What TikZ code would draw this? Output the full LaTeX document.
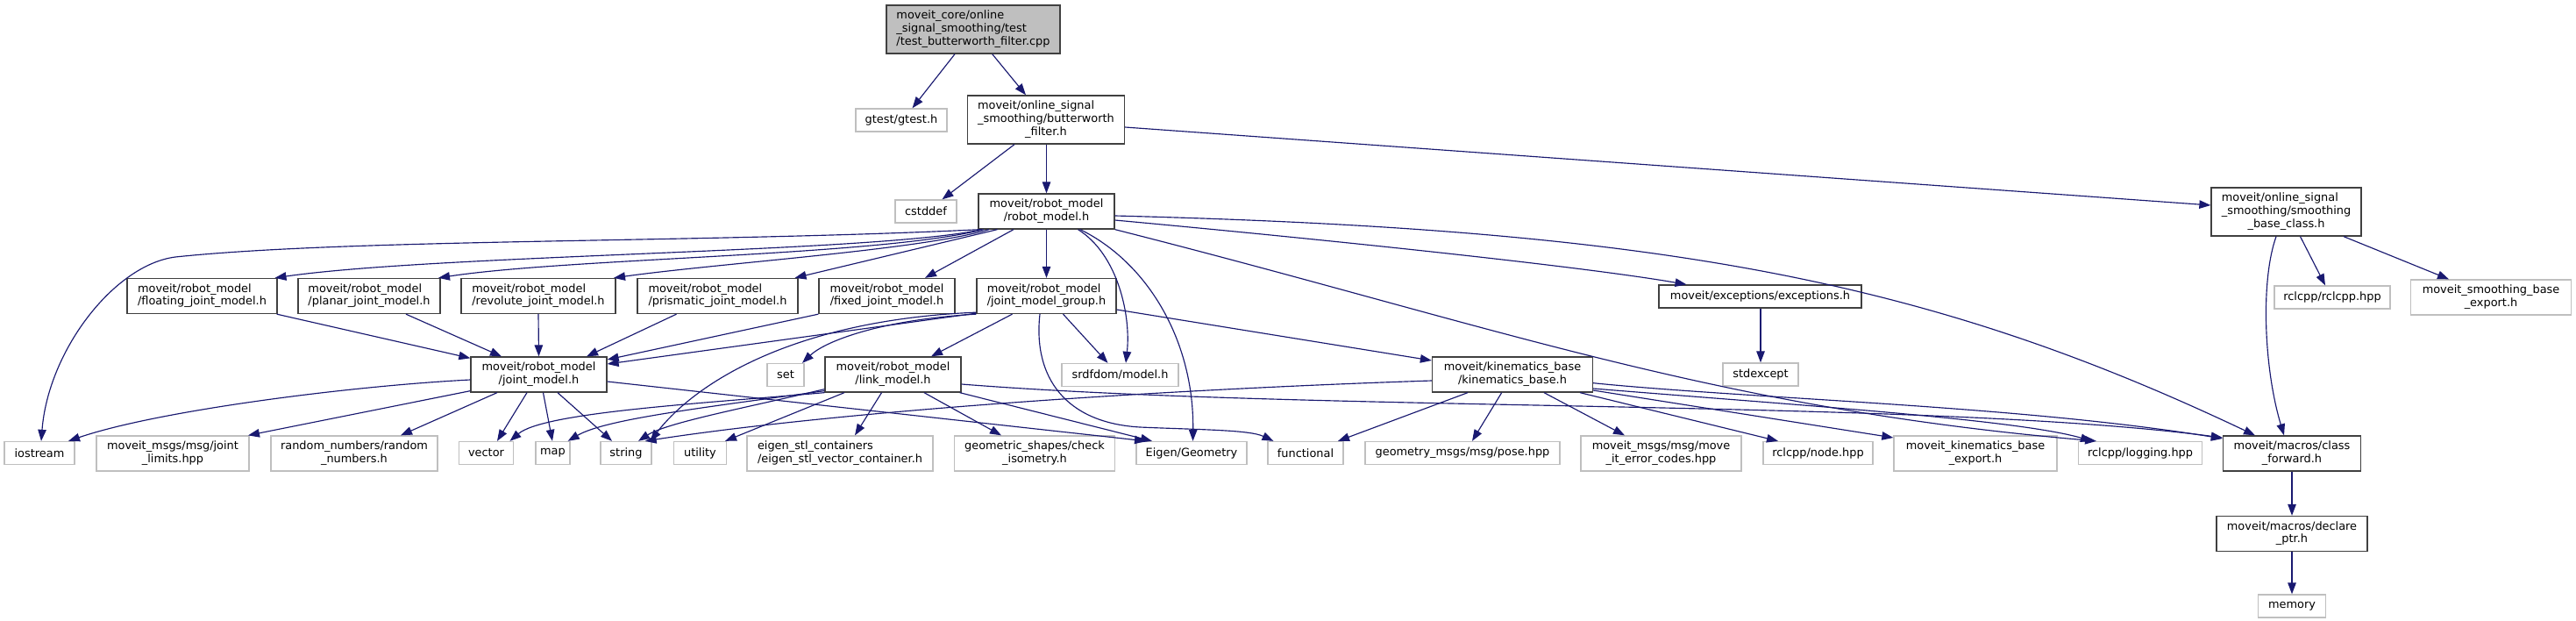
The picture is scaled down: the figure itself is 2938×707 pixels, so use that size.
\documentclass[tikz,border=0pt]{standalone}
\usepackage{fontspec}
\setmainfont{DejaVu Sans}
\usetikzlibrary{arrows.meta}
\definecolor{edgec}{HTML}{191970}
\definecolor{docb}{HTML}{404040}
\definecolor{extb}{HTML}{BFBFBF}
\definecolor{rootf}{HTML}{BFBFBF}
\newcommand{\twol}[2]{\begin{tabular}{@{}l@{}}#1\\\multicolumn{1}{@{}c@{}}{#2}\end{tabular}}
\newcommand{\threel}[3]{\begin{tabular}{@{}l@{}}#1\\#2\\\multicolumn{1}{@{}c@{}}{#3}\end{tabular}}
\tikzset{
  basebox/.style={draw, rectangle, inner sep=0pt, font=\fontsize{12.9}{14.8}\selectfont, align=center},
  docn/.style={basebox, draw=docb, fill=white, line width=1.3pt},
  extn/.style={basebox, draw=extb, fill=white, line width=1.3pt},
  rootn/.style={basebox, draw=docb, fill=rootf, line width=1.3pt},
  edg/.style={draw=edgec, line width=1.15pt, -{Triangle[length=13pt,width=9.5pt]}},
}
\begin{document}
\begin{tikzpicture}[x=1pt,y=-1pt]
\fill[white] (0,0) rectangle (2938,707);
\useasboundingbox (0,0) rectangle (2938,707);
% nodes
\node[rootn, minimum width=198, minimum height=55] (root) at (1110,33.5) {\threel{moveit\_core/online}{\_signal\_smoothing/test}{/test\_butterworth\_filter.cpp}};
\node[extn, minimum width=104, minimum height=26] (gtest) at (1028,137) {gtest/gtest.h};
\node[docn, minimum width=179, minimum height=55] (bw) at (1193,136.5) {\threel{moveit/online\_signal}{\_smoothing/butterworth}{\_filter.h}};
\node[extn, minimum width=70, minimum height=26] (cstd) at (1056,241) {cstddef};
\node[docn, minimum width=155, minimum height=40] (rm) at (1193.5,241) {\twol{moveit/robot\_model}{/robot\_model.h}};
\node[docn, minimum width=171, minimum height=55] (sbc) at (2607.5,241.5) {\threel{moveit/online\_signal}{\_smoothing/smoothing}{\_base\_class.h}};
\node[docn, minimum width=171, minimum height=40] (flo) at (230.5,337.5) {\twol{moveit/robot\_model}{/floating\_joint\_model.h}};
\node[docn, minimum width=162, minimum height=40] (pla) at (421,337.5) {\twol{moveit/robot\_model}{/planar\_joint\_model.h}};
\node[docn, minimum width=176, minimum height=40] (rev) at (614,337.5) {\twol{moveit/robot\_model}{/revolute\_joint\_model.h}};
\node[docn, minimum width=183, minimum height=40] (pri) at (818.5,337.5) {\twol{moveit/robot\_model}{/prismatic\_joint\_model.h}};
\node[docn, minimum width=155, minimum height=40] (fix) at (1011.5,337.5) {\twol{moveit/robot\_model}{/fixed\_joint\_model.h}};
\node[docn, minimum width=159, minimum height=40] (jmg) at (1193.5,337.5) {\twol{moveit/robot\_model}{/joint\_model\_group.h}};
\node[docn, minimum width=231, minimum height=26] (exc) at (2007.5,338) {moveit/exceptions/exceptions.h};
\node[extn, minimum width=132, minimum height=26] (rcl) at (2660,339) {rclcpp/rclcpp.hpp};
\node[extn, minimum width=183, minimum height=40] (sbe) at (2841,339) {\twol{moveit\_smoothing\_base}{\_export.h}};
\node[docn, minimum width=155, minimum height=40] (jm) at (614.5,427) {\twol{moveit/robot\_model}{/joint\_model.h}};
\node[extn, minimum width=42, minimum height=26] (set) at (896,427.5) {set};
\node[docn, minimum width=155, minimum height=40] (lm) at (1018.5,427) {\twol{moveit/robot\_model}{/link\_model.h}};
\node[extn, minimum width=133, minimum height=26] (srdf) at (1277.5,427.5) {srdfdom/model.h};
\node[docn, minimum width=183, minimum height=40] (kb) at (1725,427) {\twol{moveit/kinematics\_base}{/kinematics\_base.h}};
\node[extn, minimum width=86, minimum height=26] (stdexc) at (2008,427) {stdexcept};
\node[extn, minimum width=80, minimum height=26] (ios) at (45,516.5) {iostream};
\node[extn, minimum width=174, minimum height=40] (jl) at (197,517) {\twol{moveit\_msgs/msg/joint}{\_limits.hpp}};
\node[extn, minimum width=190, minimum height=40] (rn) at (404,517) {\twol{random\_numbers/random}{\_numbers.h}};
\node[extn, minimum width=62, minimum height=26] (vec) at (554.5,516.5) {vector};
\node[extn, minimum width=39, minimum height=26] (map) at (630.5,516.5) {map};
\node[extn, minimum width=58, minimum height=26] (str) at (714,516.5) {string};
\node[extn, minimum width=60, minimum height=26] (util) at (798.5,516.5) {utility};
\node[extn, minimum width=212, minimum height=40] (esc) at (958,517) {\twol{eigen\_stl\_containers}{/eigen\_stl\_vector\_container.h}};
\node[extn, minimum width=183, minimum height=40] (gs) at (1180,517) {\twol{geometric\_shapes/check}{\_isometry.h}};
\node[extn, minimum width=126, minimum height=26] (eig) at (1359,516.5) {Eigen/Geometry};
\node[extn, minimum width=86, minimum height=26] (fun) at (1489,516.5) {functional};
\node[extn, minimum width=222, minimum height=26] (pose) at (1668,516.5) {geometry\_msgs/msg/pose.hpp};
\node[extn, minimum width=183, minimum height=40] (err) at (1894.5,517) {\twol{moveit\_msgs/msg/move}{\_it\_error\_codes.hpp}};
\node[extn, minimum width=125, minimum height=26] (nodeh) at (2073.5,516.5) {rclcpp/node.hpp};
\node[extn, minimum width=186, minimum height=40] (kbe) at (2253,517) {\twol{moveit\_kinematics\_base}{\_export.h}};
\node[extn, minimum width=141, minimum height=26] (log) at (2441,516.5) {rclcpp/logging.hpp};
\node[docn, minimum width=157, minimum height=40] (cf) at (2614,517) {\twol{moveit/macros/class}{\_forward.h}};
\node[docn, minimum width=172, minimum height=40] (dp) at (2614,608.5) {\twol{moveit/macros/declare}{\_ptr.h}};
\node[extn, minimum width=77, minimum height=26] (mem) at (2614,691) {memory};
% edges
\draw[edg] ([xshift=-21pt]root.south) -- ([xshift=12.5pt]gtest.north);
\draw[edg] ([xshift=21.7pt]root.south) -- ([xshift=-23pt]bw.north);
\draw[edg] ([xshift=-36pt]bw.south) -- ([xshift=18.5pt]cstd.north);
\draw[edg] ([xshift=0.5pt]bw.south) -- (rm.north);
\draw[edg] ([yshift=-8.5pt]bw.east) -- ([yshift=7.5pt]sbc.west);
\draw[edg] ([xshift=-11.5pt]sbc.south) .. controls (2578,320) and (2582,420) .. ([xshift=-9pt]cf.north);
\draw[edg] ([xshift=16pt]sbc.south) -- ([xshift=-8pt]rcl.north);
\draw[edg] ([xshift=65.5pt]sbc.south) -- ([xshift=-48pt]sbe.north);
\draw[edg] (cf.south) -- (dp.north);
\draw[edg] (dp.south) -- (mem.north);
\draw[edg] ([xshift=0.5pt]exc.south) -- (stdexc.north);
% robot_model.h
\draw[edg] (rm.south) -- (jmg.north);
\draw[edg] ([xshift=-37.5pt]rm.south) -- ([xshift=43.5pt]fix.north);
\draw[edg] ([xshift=-56pt]rm.south) -- ([xshift=88pt]pri.north);
\draw[edg] ([xshift=-65.5pt]rm.south) .. controls (1050,285) and (820,300) .. ([xshift=86pt]rev.north);
\draw[edg] ([xshift=-71.5pt]rm.south) .. controls (1000,292) and (650,294) .. ([xshift=79pt]pla.north);
\draw[edg] ([xshift=-73.5pt]rm.south) .. controls (1000,288) and (500,290) .. ([xshift=83pt]flo.north);
\draw[edg] ([xshift=-75.5pt]rm.south) .. controls (800,277) and (400,272) .. (200,293) .. controls (130,302) and (55,400) .. ([xshift=2pt]ios.north);
\draw[edg] ([xshift=36pt]rm.south) .. controls (1275,290) and (1290,360) .. ([xshift=6.5pt]srdf.north);
\draw[edg] ([xshift=38.5pt]rm.south) .. controls (1310,300) and (1362,390) .. ([xshift=1.5pt]eig.north);
\draw[edg] ([yshift=-10pt]rm.east) .. controls (1500,272) and (1800,303) .. ([xshift=-84pt]exc.north);
\draw[edg] ([yshift=-5pt]rm.east) .. controls (1900,262) and (2200,320) .. ([xshift=-42pt]cf.north);
\draw[edg] (rm.south east) .. controls (1700,370) and (1950,465) .. ([xshift=-50pt]log.north);
% joint models -> joint_model.h
\draw[edg] ([yshift=1pt]jmg.south west) -- ([yshift=12pt]jm.east);
\draw[edg] (fix.south west) -- ([yshift=17pt]jm.east);
\draw[edg] ([xshift=-47pt]pri.south) -- ([xshift=54.5pt]jm.north);
\draw[edg] (rev.south) -- (jm.north);
\draw[edg] ([xshift=42pt]pla.south) -- ([xshift=-42.5pt]jm.north);
\draw[edg] ([xshift=-1pt]flo.south east) -- ([yshift=-2pt]jm.north west);
% joint_model.h
\draw[edg] ([yshift=-6pt]jm.west) .. controls (400,440) and (180,468) .. ([xshift=33pt]ios.north);
\draw[edg] ([yshift=2pt]jm.south west) -- ([xshift=86pt]jl.north);
\draw[edg] ([xshift=-47.5pt]jm.south) -- ([xshift=53pt]rn.north);
\draw[edg] ([xshift=-13.5pt]jm.south) -- ([xshift=12.5pt]vec.north);
\draw[edg] ([xshift=5pt]jm.south) -- ([xshift=-0.5pt]map.north);
\draw[edg] ([xshift=21.5pt]jm.south) -- ([xshift=-16pt]str.north);
\draw[edg] ([yshift=-8pt]jm.east) -- ([xshift=-52pt]eig.north);
% joint_model_group.h
\draw[edg] (jmg.south west) .. controls (1000,365) and (940,390) .. ([xshift=19pt]set.north);
\draw[edg] ([xshift=-39pt]jmg.south) -- ([xshift=43.5pt]lm.north);
\draw[edg] ([xshift=19pt]jmg.south) -- ([xshift=-14pt]srdf.north);
\draw[edg] ([xshift=-7.5pt]jmg.south) .. controls (1178,430) and (1215,482) .. (1300,487) .. controls (1370,490) and (1425,490) .. ([xshift=-36.5pt]fun.north);
\draw[edg] ([yshift=2pt]jmg.south west) .. controls (900,365) and (790,440) .. ([xshift=-2pt]str.north east);
\draw[edg] ([yshift=-15.5pt]jmg.east) -- ([yshift=16pt]kb.west);
% link_model.h
\draw[edg] (lm.south west) .. controls (800,460) and (620,470) .. ([xshift=27pt]vec.north);
\draw[edg] ([yshift=2pt]lm.south west) .. controls (800,465) and (690,478) .. ([xshift=-3pt]map.north east);
\draw[edg] ([yshift=4pt]lm.south west) .. controls (850,465) and (760,482) .. ([xshift=14pt]str.north);
\draw[edg] ([xshift=-55.5pt]lm.south) -- ([xshift=28.5pt]util.north);
\draw[edg] ([xshift=-13pt]lm.south) -- ([xshift=17pt]esc.north);
\draw[edg] ([xshift=35.5pt]lm.south) -- ([xshift=-38pt]gs.north);
\draw[edg] ([xshift=-2pt]lm.south east) -- ([xshift=-45pt]eig.north);
\draw[edg] ([yshift=-11pt]lm.east) .. controls (1500,470) and (2200,455) .. ([yshift=18pt]cf.west);
% kinematics_base.h
\draw[edg] ([yshift=-7pt]kb.west) .. controls (1300,445) and (950,470) .. ([xshift=-8pt]str.north east);
\draw[edg] ([xshift=-51pt]kb.south) -- ([xshift=37pt]fun.north);
\draw[edg] ([xshift=-12.3pt]kb.south) -- ([xshift=11pt]pose.north);
\draw[edg] ([xshift=36pt]kb.south) -- ([xshift=-41.5pt]err.north);
\draw[edg] ([xshift=77pt]kb.south) -- ([xshift=-45.5pt]nodeh.north);
\draw[edg] ([yshift=-18pt]kb.east) -- ([yshift=18pt]kbe.west);
\draw[edg] ([yshift=-9.7pt]kb.east) .. controls (2000,455) and (2300,462) .. ([yshift=17pt]cf.west);
\draw[edg] ([yshift=-16pt]kb.east) .. controls (2050,462) and (2300,478) .. ([xshift=-55pt]log.north);
\end{tikzpicture}
\end{document}
